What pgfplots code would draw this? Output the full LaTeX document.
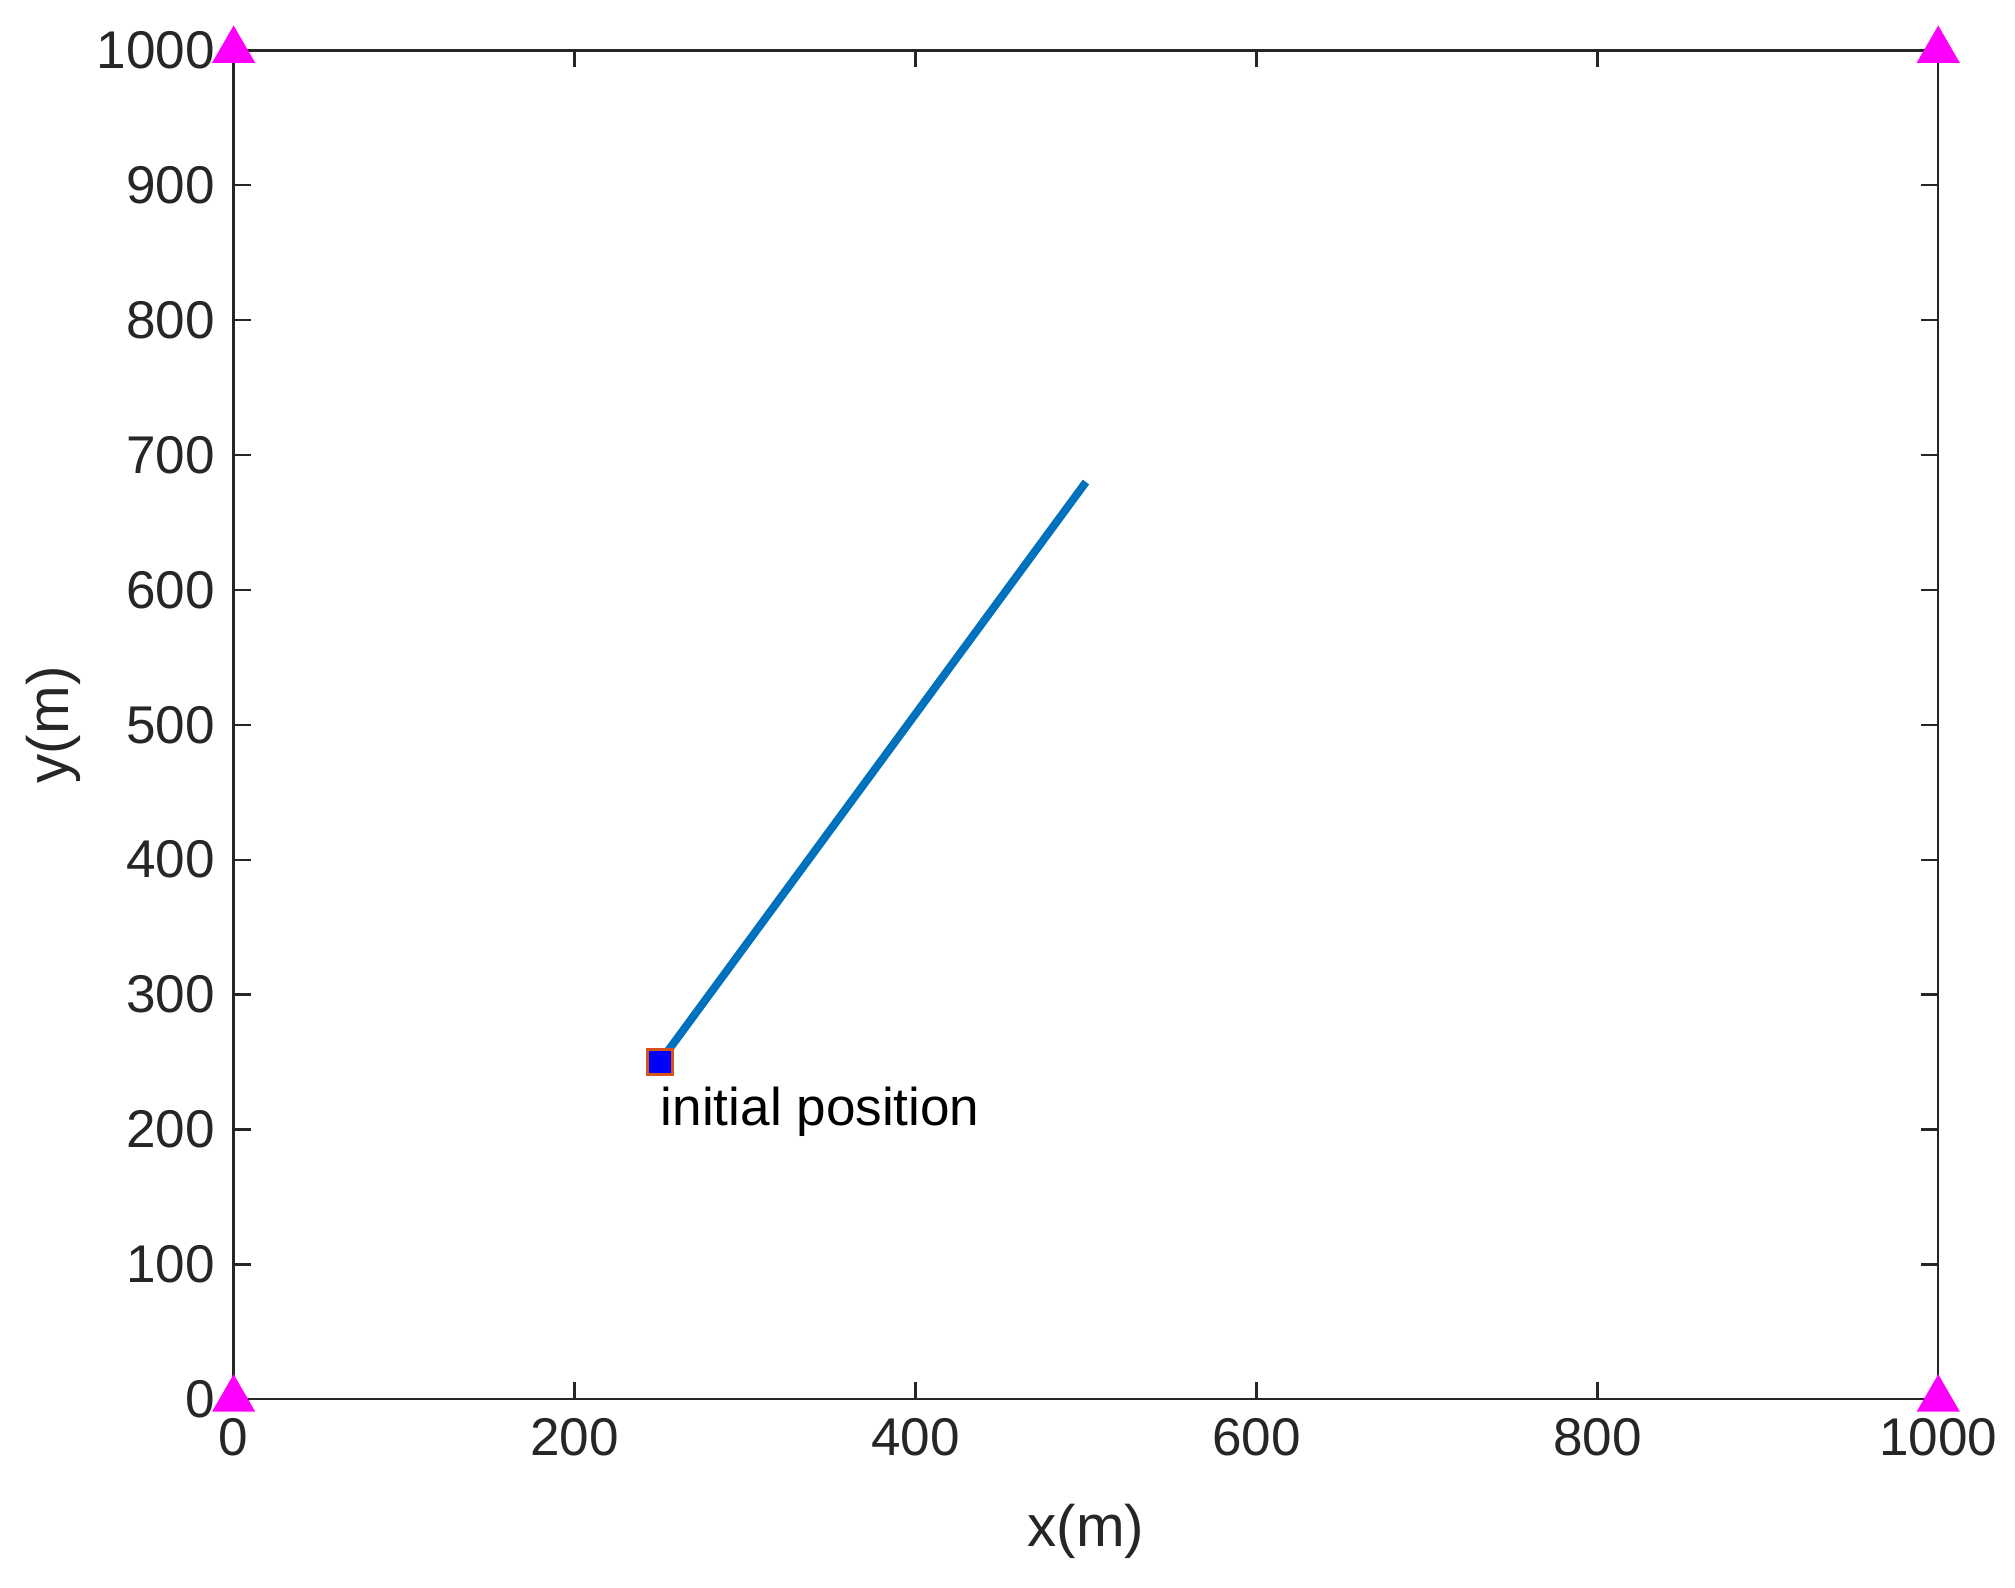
\documentclass[border=0pt]{standalone}
\usepackage{fontspec}
\setmainfont{Liberation Sans}
\usepackage{pgfplots}
\pgfplotsset{compat=1.18}
\definecolor{mblue}{RGB}{0,114,189}
\definecolor{morange}{RGB}{217,83,25}
\definecolor{axgray}{RGB}{38,38,38}
\definecolor{mmagenta}{RGB}{255,0,255}

\begin{document}
\begin{tikzpicture}
\begin{axis}[
  width=321pt, height=254pt,
  scale only axis,
  xmin=0, xmax=1000, ymin=0, ymax=1000,
  xtick={0,200,...,1000},
  ytick={0,100,...,1000},
  tick align=inside,
  tick pos=both,
  major tick length=3.2pt,
  axis line style={axgray, line width=0.45pt},
  every tick/.style={axgray, line width=0.45pt},
  tick label style={font=\fontsize{10}{12}\selectfont, text=axgray},
  label style={font=\fontsize{11}{13}\selectfont, text=axgray, inner sep=0pt},
  /pgf/number format/1000 sep={},
  /pgf/number format/assume math mode=true,
  xlabel={x(m)},
  ylabel={y(m)},
  xlabel style={at={(axis description cs:0.5,-0.098)}, anchor=center},
  ylabel style={at={(axis description cs:-0.106,0.5)}, anchor=center},
  clip=false,
]
\addplot [mblue, line width=1.5pt] coordinates {(250,250) (500,680)};
\addplot [only marks, mark=square*, mark size=2.35pt,
  mark options={fill=blue, draw=morange, line width=0.5pt}]
  coordinates {(250,250)};
\addplot [only marks, mark=triangle*, mark size=4.3pt, color=mmagenta,
  mark options={fill=mmagenta, draw=mmagenta}]
  coordinates {(0,0) (0,1000) (1000,0) (1000,1000)};
\node [anchor=base west, inner xsep=0pt, font=\fontsize{10}{12}\selectfont]
  at (axis cs:250,203) {initial position};
\end{axis}
\path ([shift={(-44pt,-35.5pt)}]current axis.south west)
  rectangle ([shift={(14pt,9.5pt)}]current axis.north east);
\end{tikzpicture}
\end{document}
